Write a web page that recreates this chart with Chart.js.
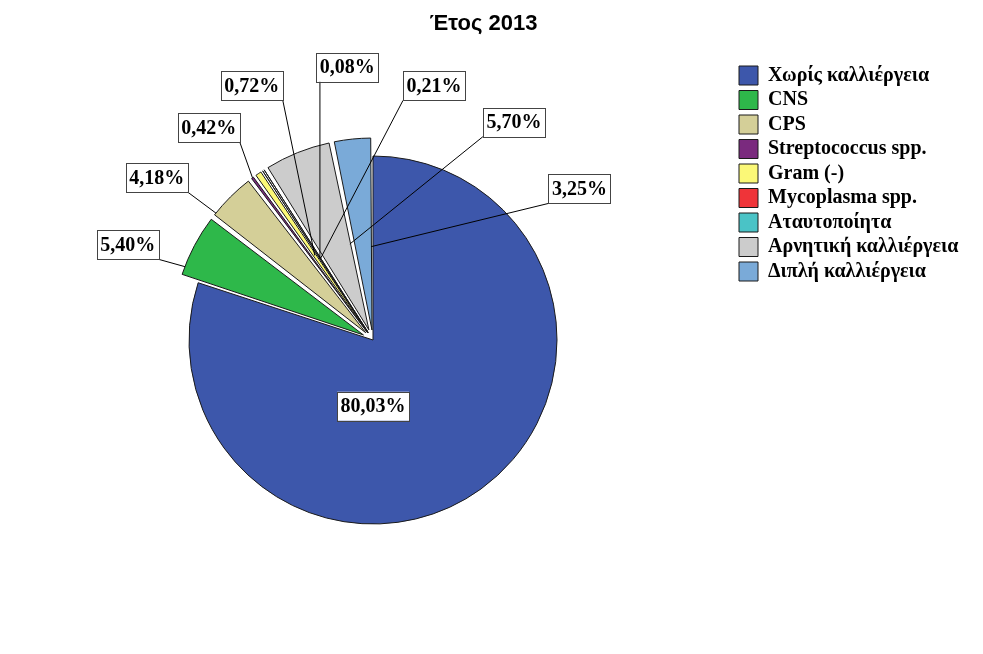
<!DOCTYPE html>
<html>
<head>
<meta charset="utf-8">
<script src="https://cdn.jsdelivr.net/npm/chart.js@4.4.1/dist/chart.umd.min.js"></script>
<style>html, body { margin: 0; background: #fff; }</style>
</head>
<body>
<canvas id="c" width="983" height="654"></canvas>
<script>
// Pie "Έτος 2013": share of each culture result, non-main slices pulled out.

const categories = ['Χωρίς καλλιέργεια', 'CNS', 'CPS', 'Streptococcus spp.', 'Gram (-)',
                    'Mycoplasma spp.', 'Αταυτοποίητα', 'Αρνητική καλλιέργεια', 'Διπλή καλλιέργεια'];
const percents   = [80.03, 5.40, 4.18, 0.42, 0.72, 0.08, 0.21, 5.70, 3.25];

const colors = ['#3d57ab', '#2eb84a', '#d4cf98', '#7a2a7e', '#fbf877',
                '#ef3439', '#4ac3c6', '#cccccc', '#7aaad8'];

// callout layout: label centre (deg clockwise from 12 o'clock, fraction of radius)
const labelAngle = [180, 291.2, 306.9, 322.3, 334.5, 354.6, 13.5, 32.9, 53.8];
const labelDist  = [0.36, 1.43, 1.47, 1.46, 1.53, 1.49, 1.42, 1.41, 1.39];
// leader end: position across the slice (0..1) and fraction of radius
const leaderT = [null, 0.13, 0.05, 0.5, 0.5, 0.5, 0.5, 1.0, 1.0];
const leaderF = [null, 1.0, 1.0, 1.0, 0.46, 0.43, 0.43, 0.44, 0.41];

const RADIUS = 184;
const PULL = 18;      // px each exploded slice moves out
const SERIF = '"Liberation Serif", "Times New Roman", serif';

// ArcElement moves by offset/4 * (2 - sin(circ)), so solve for a fixed pull
const offsets = percents.map((p, i) =>
  i === 0 ? 0 : PULL * 4 / (2 - Math.sin(Math.min(Math.PI, p / 100 * 2 * Math.PI))));

const fmt = v => v.toFixed(2).replace('.', ',') + '%';

function sliceCentre(a) {
  const circ = a.endAngle - a.startAngle;
  const fix = 1 - Math.sin(Math.min(Math.PI, circ));
  const shift = (a.options.offset || 0) / 4 * (1 + fix);
  const mid = (a.startAngle + a.endAngle) / 2;
  return { x: a.x + Math.cos(mid) * shift, y: a.y + Math.sin(mid) * shift };
}

function labelBox(ctx, cx, cy, R, i) {
  const th = (labelAngle[i] - 90) * Math.PI / 180;
  const x = cx + Math.cos(th) * labelDist[i] * R;
  const y = cy + Math.sin(th) * labelDist[i] * R;
  const text = fmt(percents[i]);
  const w = ctx.measureText(text).width + 7, h = 29;
  return { x, y, text, w, h, l: x - w / 2, r: x + w / 2, t: y - h / 2, b: y + h / 2 };
}

const callouts = {
  id: 'callouts',
  afterLayout(chart) {
    // title sits over the whole figure in the original, a bit left of canvas centre
    chart.titleBlock.left -= 5.5;
    chart.titleBlock.right -= 5.5;
  },
  afterDatasetsDraw(chart) {
    const arcs = chart.getDatasetMeta(0).data;
    const { ctx } = chart;
    const cx = arcs[0].x, cy = arcs[0].y, R = arcs[0].outerRadius;
    ctx.save();
    ctx.font = 'bold 20px ' + SERIF;
    const boxes = arcs.map((a, i) => labelBox(ctx, cx, cy, R, i));

    arcs.forEach((a, i) => {
      if (leaderT[i] === null) return;
      const box = boxes[i];
      const c = sliceCentre(a);
      const ang = a.startAngle + leaderT[i] * (a.endAngle - a.startAngle);
      const ex = c.x + Math.cos(ang) * leaderF[i] * R;
      const ey = c.y + Math.sin(ang) * leaderF[i] * R;
      const sx = Math.min(Math.max(ex, box.l), box.r);
      const sy = Math.min(Math.max(ey, box.t), box.b);
      ctx.beginPath();
      ctx.moveTo(sx, sy);
      ctx.lineTo(ex, ey);
      ctx.strokeStyle = '#000';
      ctx.lineWidth = 1;
      ctx.stroke();
    });

    boxes.forEach(box => {
      ctx.fillStyle = '#fff';
      ctx.fillRect(box.l, box.t, box.w, box.h);
      ctx.strokeStyle = '#444';
      ctx.lineWidth = 1;
      ctx.strokeRect(Math.round(box.l) + 0.5, Math.round(box.t) + 0.5, Math.round(box.w), box.h);
      ctx.fillStyle = '#000';
      ctx.textAlign = 'center';
      ctx.textBaseline = 'middle';
      ctx.fillText(box.text, box.x, box.y + 1);
    });
    ctx.restore();
  }
};

new Chart(document.getElementById('c').getContext('2d'), {
  type: 'pie',
  data: {
    labels: categories,
    datasets: [{
      data: percents, backgroundColor: colors,
      borderColor: '#1a1a1a', borderWidth: 1,
      offset: offsets, hoverOffset: 0, radius: RADIUS,
    }],
  },
  options: {
    responsive: false, animation: false, devicePixelRatio: 1, events: [],
    layout: { padding: { left: 11.5, right: 16.5, top: 0, bottom: 35 } },
    plugins: {
      title: {
        display: true, text: 'Έτος 2013', color: '#000',
        font: { family: '"Liberation Sans", Arial, sans-serif', size: 22, weight: 'bold' },
        padding: { top: 11, bottom: 23.6 },
      },
      legend: {
        position: 'right', align: 'start', fullSize: false, maxWidth: 232,
        labels: {
          color: '#000', boxWidth: 19, boxHeight: 19, padding: 4.5,
          font: { family: SERIF, size: 20, weight: 'bold' },
        },
      },
      tooltip: { enabled: false },
    },
  },
  plugins: [callouts],
});
</script>
</body>
</html>
